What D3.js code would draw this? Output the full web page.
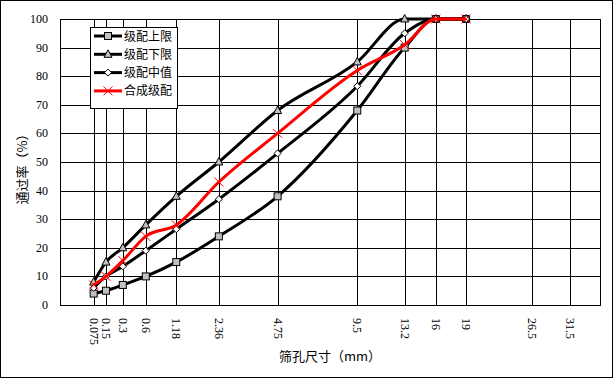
<!DOCTYPE html>
<html>
<head>
<meta charset="utf-8">
<style>
  body { margin: 0; background: #fff; }
  svg text { fill: #000; }
  .num { font-family: "Liberation Serif", "Times New Roman", serif; font-size: 12px; }
  .cjk { font-family: "Noto Sans CJK SC", sans-serif; font-size: 12px; }
  .title { font-size: 13px; }
</style>
<script src="https://cdn.jsdelivr.net/npm/d3@7/dist/d3.min.js"></script>
</head>
<body>
<svg id="chart"></svg>
<script>
// sieve sizes (mm) with measured passing rates
let sieves = [0.075, 0.15, 0.3, 0.6, 1.18, 2.36, 4.75, 9.5, 13.2, 16, 19];
let gridSizes = [0.075, 0.15, 0.3, 0.6, 1.18, 2.36, 4.75, 9.5, 13.2, 16, 19, 26.5, 31.5];
let gridLabels = ["0.075", "0.15", "0.3", "0.6", "1.18", "2.36", "4.75", "9.5", "13.2", "16", "19", "26.5", "31.5"];
let yTicks = [0, 10, 20, 30, 40, 50, 60, 70, 80, 90, 100];

let upperLimit = [4, 5, 7, 10, 15, 24, 38, 68, 90, 100, 100];
let lowerLimit = [8, 15, 20, 28, 38, 50, 68, 85, 100, 100, 100];
let middleValue = [6, 10, 13.5, 19, 26.5, 37, 53, 76.5, 95, 100, 100];
let blended = [7, 10, 15.5, 24, 28, 43, 60, 82, 91, 100, 100];

let seriesNames = ["级配上限", "级配下限", "级配中值", "合成级配"];
let xMax = 35.8;

let width = 615, height = 379;
let margin = { top: 19, right: 15, bottom: 74, left: 60 };

let svg = d3.select("#chart").attr("width", width).attr("height", height);

// outer chart border
svg.append("rect")
  .attr("x", 0.5).attr("y", 0.5)
  .attr("width", 612).attr("height", 377)
  .attr("fill", "#fff").attr("stroke", "#000");

let xScale = d3.scalePow().exponent(0.45)
  .domain([0, xMax])
  .range([margin.left, width - margin.right]);
let yScale = d3.scaleLinear()
  .domain([0, 100])
  .range([height - margin.bottom, margin.top]);

let x0 = xScale.range()[0], x1 = xScale.range()[1];
let y0 = yScale.range()[0], y1 = yScale.range()[1];

// horizontal grid
svg.append("g").selectAll("line").data(yTicks).enter().append("line")
  .attr("x1", x0).attr("x2", x1)
  .attr("y1", d => Math.round(yScale(d)) + 0.5)
  .attr("y2", d => Math.round(yScale(d)) + 0.5)
  .attr("stroke", "#000");

// vertical grid at sieve sizes
svg.append("g").selectAll("line").data(gridSizes).enter().append("line")
  .attr("x1", d => Math.round(xScale(d)) + 0.5)
  .attr("x2", d => Math.round(xScale(d)) + 0.5)
  .attr("y1", y0).attr("y2", y1)
  .attr("stroke", "#000");

// plot frame
svg.append("rect")
  .attr("x", x0 + 0.5).attr("y", Math.round(y1) + 0.5)
  .attr("width", x1 - x0).attr("height", y0 - y1)
  .attr("fill", "none").attr("stroke", "#000");

// y tick labels
svg.append("g").selectAll("text").data(yTicks).enter().append("text")
  .attr("class", "num")
  .attr("x", 48)
  .attr("y", d => yScale(d) + 4)
  .attr("text-anchor", "end")
  .text(d => d);

// x tick labels, rotated
svg.append("g").selectAll("text").data(gridSizes).enter().append("text")
  .attr("class", "num")
  .attr("transform", d => `translate(${xScale(d) - 4},318) rotate(90)`)
  .text((d, i) => gridLabels[i]);

// axis titles
svg.append("text").attr("class", "cjk title")
  .attr("x", (x0 + x1) / 2).attr("y", 361)
  .attr("text-anchor", "middle")
  .text("筛孔尺寸（mm）");
svg.append("text").attr("class", "cjk title")
  .attr("transform", `translate(27,${(y0 + y1) / 2 + 4}) rotate(-90)`)
  .attr("text-anchor", "middle")
  .text("通过率（%）");

let lineGen = d3.line()
  .x(d => xScale(d.size))
  .y(d => yScale(d.value))
  .curve(d3.curveMonotoneX);

function toPoints(values) {
  return sieves.map((s, i) => ({ size: s, value: values[i] }));
}

let series = [
  { name: seriesNames[0], values: upperLimit, color: "#000", marker: "square" },
  { name: seriesNames[1], values: lowerLimit, color: "#000", marker: "triangle" },
  { name: seriesNames[2], values: middleValue, color: "#000", marker: "diamond" },
  { name: seriesNames[3], values: blended, color: "#ff0000", marker: "cross" }
];

function drawMarker(g, type, cx, cy) {
  if (type === "square") {
    g.append("rect").attr("x", cx - 3.5).attr("y", cy - 3.5)
      .attr("width", 7).attr("height", 7)
      .attr("fill", "#c0c0c0").attr("stroke", "#000").attr("stroke-width", 1);
  } else if (type === "triangle") {
    g.append("path")
      .attr("d", `M${cx},${cy - 4.5}L${cx + 4},${cy + 3}L${cx - 4},${cy + 3}Z`)
      .attr("fill", "#c0c0c0").attr("stroke", "#000").attr("stroke-width", 1);
  } else if (type === "diamond") {
    g.append("path")
      .attr("d", `M${cx},${cy - 3.5}L${cx + 3.5},${cy}L${cx},${cy + 3.5}L${cx - 3.5},${cy}Z`)
      .attr("fill", "#fff").attr("stroke", "#000").attr("stroke-width", 1);
  } else {
    g.append("path")
      .attr("d", `M${cx - 4.5},${cy - 4.5}L${cx + 4.5},${cy + 4.5}M${cx - 4.5},${cy + 4.5}L${cx + 4.5},${cy - 4.5}`)
      .attr("stroke", "#ff0000").attr("stroke-width", 1);
  }
}

series.forEach(s => {
  let pts = toPoints(s.values);
  let g = svg.append("g");
  g.append("path")
    .attr("d", lineGen(pts))
    .attr("fill", "none")
    .attr("stroke", s.color)
    .attr("stroke-width", 3)
    .attr("stroke-linejoin", "round");
  pts.forEach(p => drawMarker(g, s.marker, xScale(p.size), yScale(p.value)));
});

// legend
let legend = svg.append("g");
legend.append("rect")
  .attr("x", 90.5).attr("y", 27.5)
  .attr("width", 87).attr("height", 81)
  .attr("fill", "#fff").attr("stroke", "#000");
series.forEach((s, i) => {
  let ly = 36 + i * 18.3;
  legend.append("line")
    .attr("x1", 94).attr("x2", 122)
    .attr("y1", ly).attr("y2", ly)
    .attr("stroke", s.color).attr("stroke-width", 3);
  drawMarker(legend, s.marker, 108, ly);
  legend.append("text").attr("class", "cjk")
    .attr("x", 124).attr("y", ly + 4.5)
    .text(s.name);
});
</script>
</body>
</html>
